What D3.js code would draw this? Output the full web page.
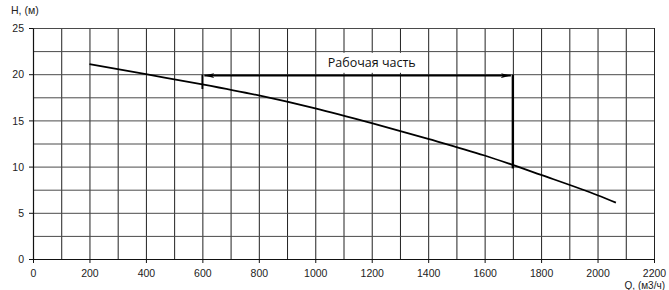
<!DOCTYPE html>
<html>
<head>
<meta charset="utf-8">
<script src="https://cdn.jsdelivr.net/npm/d3@7"></script>
<style>
  body { margin: 0; background: #fff; }
  #chart { width: 669px; height: 290px; }
</style>
</head>
<body>
<div id="chart"></div>
<script>
// pump curve
const flow = [200, 400, 600, 800, 1000, 1200, 1400, 1600, 1800, 2000, 2065];
const head = [21.1, 20.0, 18.9, 17.7, 16.3, 14.7, 13.0, 11.2, 9.1, 6.9, 6.1];

const xTicks = [0, 200, 400, 600, 800, 1000, 1200, 1400, 1600, 1800, 2000, 2200];
const yTicks = [0, 5, 10, 15, 20, 25];

// working range marker
const workFrom = 600;
const workTo = 1700;
const workHead = 19.85;
const workLeftBottom = 18.4;
const workRightBottom = 9.8;
const workLabel = 'Рабочая часть';

const width = 669;
const height = 290;

const svg = d3
  .select('#chart')
  .append('svg')
  .attr('width', width)
  .attr('height', height);

const x = d3.scaleLinear().domain([0, 2200]).range([33, 654]);
const y = d3.scaleLinear().domain([0, 25]).range([259, 28]);

// grid: every 100 on Q, every 2.5 on H
svg
  .append('g')
  .attr('transform', `translate(0,${y(0)})`)
  .call(d3.axisBottom(x).tickValues(d3.range(100, 2201, 100)).tickFormat('').tickSize(-(y(0) - y(25))))
  .call((g) => g.select('.domain').remove())
  .selectAll('line')
  .attr('stroke', '#222');

svg
  .append('g')
  .attr('transform', `translate(${x(0)},0)`)
  .call(d3.axisLeft(y).tickValues(d3.range(2.5, 25.1, 2.5)).tickFormat('').tickSize(-(x(2200) - x(0))))
  .call((g) => g.select('.domain').remove())
  .selectAll('line')
  .attr('stroke', '#4a4a4a');

// axes with labels
const xAxis = svg
  .append('g')
  .attr('transform', `translate(0,${y(0)})`)
  .call(d3.axisBottom(x).tickValues(xTicks).tickFormat(d3.format('d')).tickSize(4).tickSizeOuter(0).tickPadding(7));
const yAxis = svg
  .append('g')
  .attr('transform', `translate(${x(0)},0)`)
  .call(d3.axisLeft(y).tickValues(yTicks).tickSize(4).tickSizeOuter(0).tickPadding(5));

[xAxis, yAxis].forEach((g) => {
  g.select('.domain').attr('stroke', '#111').attr('stroke-width', 1.2);
  g.selectAll('.tick line').attr('stroke', '#111');
  g.selectAll('text')
    .attr('fill', '#222')
    .style('font-family', 'Liberation Sans, Arial, sans-serif')
    .style('font-size', '10.5px');
});
yAxis.selectAll('text').attr('dy', '0.35em');

svg
  .append('text')
  .attr('x', 11)
  .attr('y', 14)
  .attr('fill', '#222')
  .style('font-family', 'Liberation Sans, Arial, sans-serif')
  .style('font-size', '10.5px')
  .text('H, (м)');

svg
  .append('text')
  .attr('x', 665)
  .attr('y', 288.5)
  .attr('text-anchor', 'end')
  .attr('fill', '#222')
  .style('font-family', 'Liberation Sans, Arial, sans-serif')
  .style('font-size', '10px')
  .text('Q, (м3/ч)');

// the curve
const points = flow.map((q, i) => [q, head[i]]);
svg
  .append('path')
  .datum(points)
  .attr('fill', 'none')
  .attr('stroke', '#000')
  .attr('stroke-width', 1.8)
  .attr(
    'd',
    d3
      .line()
      .curve(d3.curveMonotoneX)
      .x((d) => x(d[0]))
      .y((d) => y(d[1])),
  );

// working part
const defs = svg.append('defs');
defs
  .append('marker')
  .attr('id', 'arrow')
  .attr('viewBox', '0 0 10 6')
  .attr('refX', 10)
  .attr('refY', 3)
  .attr('markerWidth', 10)
  .attr('markerHeight', 6)
  .attr('markerUnits', 'userSpaceOnUse')
  .attr('orient', 'auto-start-reverse')
  .append('path')
  .attr('d', 'M0,0.6L10,3L0,5.4L2.5,3Z')
  .attr('fill', '#000');

svg
  .append('line')
  .attr('x1', x(workFrom) + 2)
  .attr('x2', x(workTo) - 2)
  .attr('y1', y(workHead))
  .attr('y2', y(workHead))
  .attr('stroke', '#000')
  .attr('stroke-width', 2)
  .attr('marker-start', 'url(#arrow)')
  .attr('marker-end', 'url(#arrow)');

svg
  .append('line')
  .attr('x1', x(workFrom))
  .attr('x2', x(workFrom))
  .attr('y1', y(workHead) - 1)
  .attr('y2', y(workLeftBottom))
  .attr('stroke', '#000')
  .attr('stroke-width', 1.8);

svg
  .append('line')
  .attr('x1', x(workTo))
  .attr('x2', x(workTo))
  .attr('y1', y(workHead) - 1)
  .attr('y2', y(workRightBottom))
  .attr('stroke', '#000')
  .attr('stroke-width', 2.4);

const labelBox = svg.append('rect').attr('fill', '#fff');
const label = svg
  .append('text')
  .attr('x', x((workFrom + workTo) / 2 + 50))
  .attr('y', y(20.8))
  .attr('text-anchor', 'middle')
  .attr('fill', '#111')
  .style('font-family', 'Open Sans, Noto Sans, sans-serif')
  .style('font-size', '12.5px')
  .text(workLabel);

const bb = label.node().getBBox();
labelBox
  .attr('x', bb.x - 7)
  .attr('y', bb.y - 1)
  .attr('width', bb.width + 14)
  .attr('height', bb.height + 3);
</script>
</body>
</html>
